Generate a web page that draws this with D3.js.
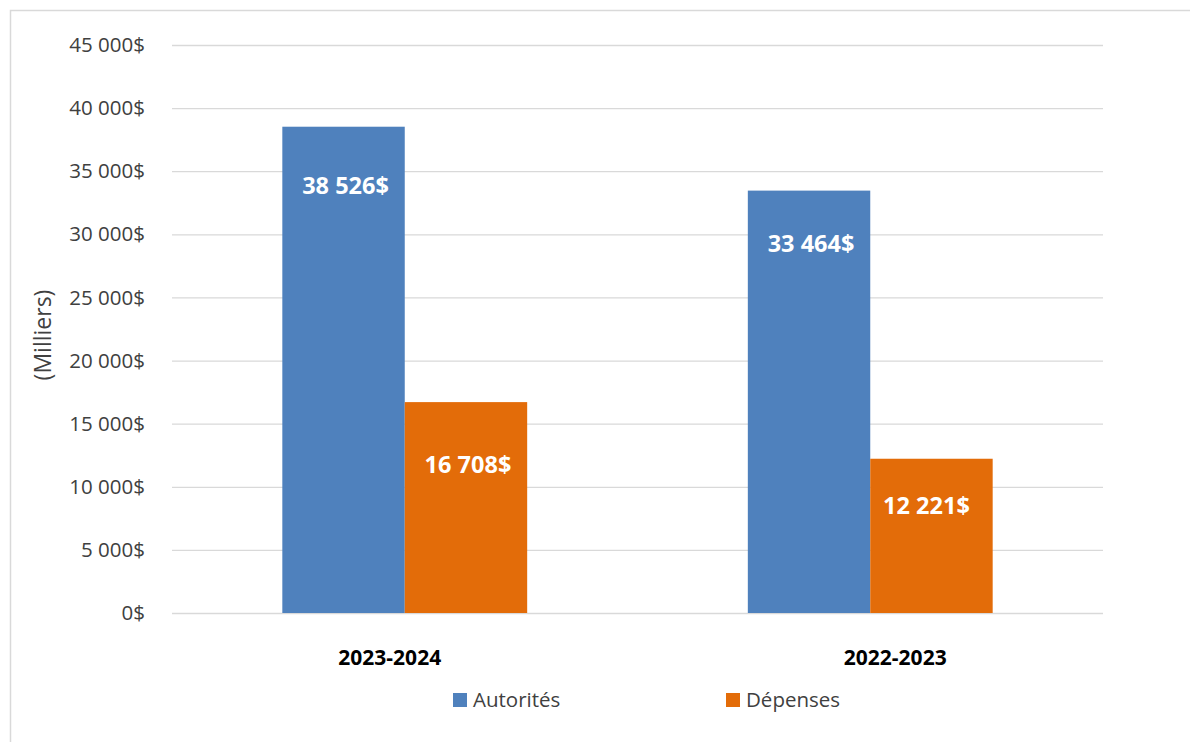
<!DOCTYPE html>
<meta charset="utf-8">
<script src="https://d3js.org/d3.v7.min.js"></script>
<style>
  body { margin: 0; background: #fff; }
  svg { display: block; font-family: "Open Sans", sans-serif; }
</style>
<div id="page"></div>
<script>

  // Data
  var categories = ["2023-2024", "2022-2023"];
  var seriesNames = ["Autorités", "Dépenses"];
  var autorites = [38526, 33464];
  var depenses = [16708, 12221];
  var yTicks = [0, 5000, 10000, 15000, 20000, 25000, 30000, 35000, 40000, 45000];

  var colors = ["#4f81bd", "#e36c09"];

  // label placement (px below bar top), same order as the bars
  var labelDrop = [[59, 62], [53, 47]];
  var labelNudge = [[2, 2], [2, -5]];
  var catNudge = [-15, 25];

  var W = 1190, H = 742;
  var margin = { top: 45, right: 87, bottom: 129, left: 172 },
    width = W - margin.left - margin.right,
    height = H - margin.top - margin.bottom;

  var fmt = function (v) {
    return d3.format(",")(v).replace(/,/g, " ") + "$";
  };

  var root = d3.select("#page").append("svg")
    .attr("width", W)
    .attr("height", H);

  // chart border
  root.append("rect")
    .attr("x", 10.5).attr("y", 10.5)
    .attr("width", W + 10).attr("height", H + 10)
    .attr("fill", "none")
    .attr("stroke", "#d9d9d9")
    .attr("stroke-width", 1.5);

  var svg = root.append("g")
    .attr("transform", "translate(" + margin.left + "," + margin.top + ")");

  var x = d3.scaleBand()
    .domain(categories)
    .range([0, width])
    .paddingInner(0.474)
    .paddingOuter(0.237);

  var xs = d3.scaleBand()
    .domain(seriesNames)
    .range([0, x.bandwidth()]);

  var y = d3.scaleLinear()
    .domain([0, 45000])
    .range([height, 0]);

  // gridlines + y labels
  var yAxis = svg.append("g")
    .call(d3.axisLeft(y).tickValues(yTicks).tickSize(-width).tickFormat(fmt).tickPadding(27));
  yAxis.select(".domain").remove();
  yAxis.selectAll(".tick line").attr("stroke", "#d9d9d9").attr("stroke-width", 1.3);
  yAxis.selectAll(".tick text")
    .attr("font-family", "Open Sans")
    .attr("font-size", "20.5px")
    .attr("fill", "#404040");

  // bars
  var rows = categories.map(function (c, i) {
    return { cat: c, i: i, vals: [autorites[i], depenses[i]] };
  });

  var groups = svg.selectAll(".grp")
    .data(rows)
    .enter()
    .append("g")
    .attr("transform", function (d) { return "translate(" + x(d.cat) + ",0)"; });

  groups.selectAll("rect")
    .data(function (d) { return d.vals.map(function (v, j) { return { v: v, j: j, i: d.i }; }); })
    .enter()
    .append("rect")
    .attr("x", function (d) { return xs(seriesNames[d.j]); })
    .attr("width", xs.bandwidth())
    .attr("y", function (d) { return y(d.v); })
    .attr("height", function (d) { return height - y(d.v); })
    .attr("fill", function (d) { return colors[d.j]; });

  groups.selectAll(".lbl")
    .data(function (d) { return d.vals.map(function (v, j) { return { v: v, j: j, i: d.i }; }); })
    .enter()
    .append("text")
    .attr("x", function (d) { return xs(seriesNames[d.j]) + xs.bandwidth() / 2 + labelNudge[d.i][d.j]; })
    .attr("y", function (d) { return y(d.v) + labelDrop[d.i][d.j]; })
    .attr("dy", "0.36em")
    .attr("text-anchor", "middle")
    .attr("font-size", "23.5px")
    .attr("font-weight", "bold")
    .attr("fill", "#fff")
    .text(function (d) { return fmt(d.v); });

  // category labels
  svg.selectAll(".cat")
    .data(categories)
    .enter()
    .append("text")
    .attr("x", function (d, i) { return x(d) + x.bandwidth() / 2 + catNudge[i]; })
    .attr("y", height + 44)
    .attr("dy", "0.36em")
    .attr("text-anchor", "middle")
    .attr("font-size", "21px")
    .attr("font-weight", "bold")
    .attr("fill", "#000")
    .text(function (d) { return d; });

  // y title
  root.append("text")
    .attr("transform", "translate(43,335)rotate(-90)")
    .attr("dy", "0.36em")
    .attr("text-anchor", "middle")
    .attr("font-size", "23px")
    .attr("fill", "#404040")
    .text("(Milliers)");

  // legend
  var legX = [453, 726];
  var leg = root.selectAll(".leg")
    .data(seriesNames)
    .enter()
    .append("g")
    .attr("transform", function (d, i) { return "translate(" + legX[i] + ",700)"; });
  leg.append("rect")
    .attr("x", 0).attr("y", -7)
    .attr("width", 14).attr("height", 14)
    .attr("fill", function (d, i) { return colors[i]; });
  leg.append("text")
    .attr("x", 20)
    .attr("dy", "0.36em")
    .attr("font-size", "20.5px")
    .attr("fill", "#404040")
    .text(function (d) { return d; });

</script>
